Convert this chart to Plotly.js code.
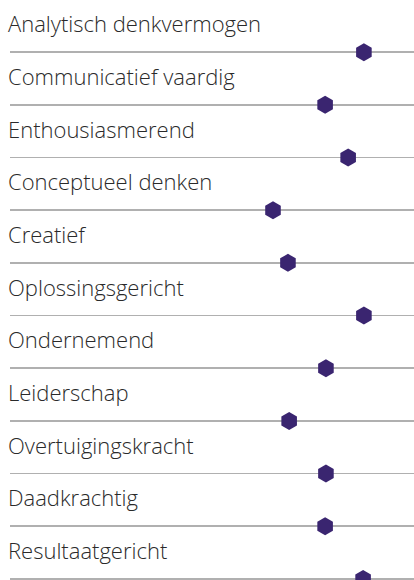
<!DOCTYPE html>
<html>
<head>
<meta charset="utf-8">
<script src="https://cdn.plot.ly/plotly-3.0.1.min.js"></script>
<style>html,body{margin:0;padding:0;background:#fff;}#chart{width:414px;height:580px;}</style>
</head>
<body>
<div id="chart"></div>
<script>
const categories = [
  "Analytisch denkvermogen",
  "Communicatief vaardig",
  "Enthousiasmerend",
  "Conceptueel denken",
  "Creatief",
  "Oplossingsgericht",
  "Ondernemend",
  "Leiderschap",
  "Overtuigingskracht",
  "Daadkrachtig",
  "Resultaatgericht"
];
const scores = [87.6, 78.0, 83.7, 65.1, 68.8, 87.6, 78.2, 69.1, 78.2, 78.0, 87.4];

const trace = {
  type: "scatter",
  mode: "markers",
  x: scores,
  y: categories,
  marker: {symbol: "hexagon", size: 18, color: "#3a2570", line: {width: 0}},
  hoverinfo: "x+y"
};

const annotations = categories.map(c => ({
  x: 0, xref: "paper", xanchor: "left", xshift: -4,
  y: c, yref: "y", yanchor: "middle", yshift: 29,
  text: c, showarrow: false,
  font: {family: "'Open Sans', sans-serif", size: 22, color: "#2a2a2a", weight: 300}
}));

const layout = {
  width: 414, height: 580,
  margin: {l: 10, r: 0, t: 0, b: 0},
  paper_bgcolor: "#ffffff", plot_bgcolor: "#ffffff",
  showlegend: false,
  xaxis: {range: [0, 100], visible: false, fixedrange: true},
  yaxis: {
    type: "category", categoryorder: "array", categoryarray: categories,
    range: [10.02, -0.99], showgrid: true, gridcolor: "#b0b0b0", gridwidth: 1.6,
    showticklabels: false, ticks: "", zeroline: false, showline: false, fixedrange: true
  },
  annotations: annotations
};

Plotly.newPlot("chart", [trace], layout, {displayModeBar: false, staticPlot: true});
</script>
</body>
</html>
